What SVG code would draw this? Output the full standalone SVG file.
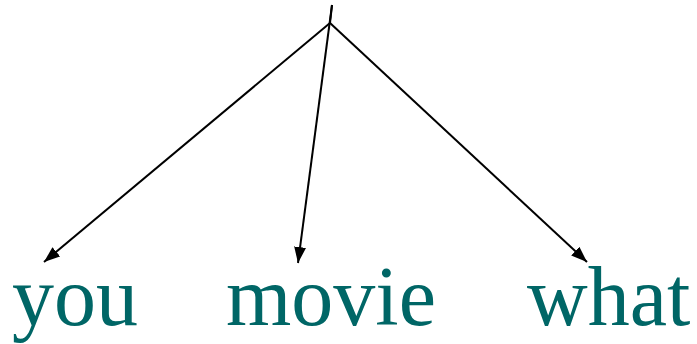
<svg xmlns="http://www.w3.org/2000/svg" width="697" height="344" viewBox="0 0 697 344">
<style>
.w{font-family:"Liberation Serif","Times New Roman",serif;font-size:84px;fill:#006666}
.e{stroke:#000;stroke-width:2;fill:none;marker-end:url(#a)}
</style>
<defs><marker id="a" markerWidth="16" markerHeight="12" refX="16" refY="6" orient="auto" markerUnits="userSpaceOnUse"><path d="M0,0L16,6L0,12z" fill="#000"/></marker></defs>
<rect width="697" height="344" fill="#fff"/>
<g id="connectors">
<line x1="332" y1="5" x2="330" y2="23" stroke="#000" stroke-width="2"/>
<line class="e" x1="330" y1="23" x2="44" y2="262"/>
<line class="e" x1="332" y1="5" x2="298" y2="263"/>
<line class="e" x1="330" y1="23" x2="587" y2="262"/>
</g>
<g id="you"><text class="w" x="12" y="325">you</text></g>
<g id="movie"><text class="w" x="226" y="325">movie</text></g>
<g id="what"><text class="w" x="527" y="325">what</text></g>
</svg>
